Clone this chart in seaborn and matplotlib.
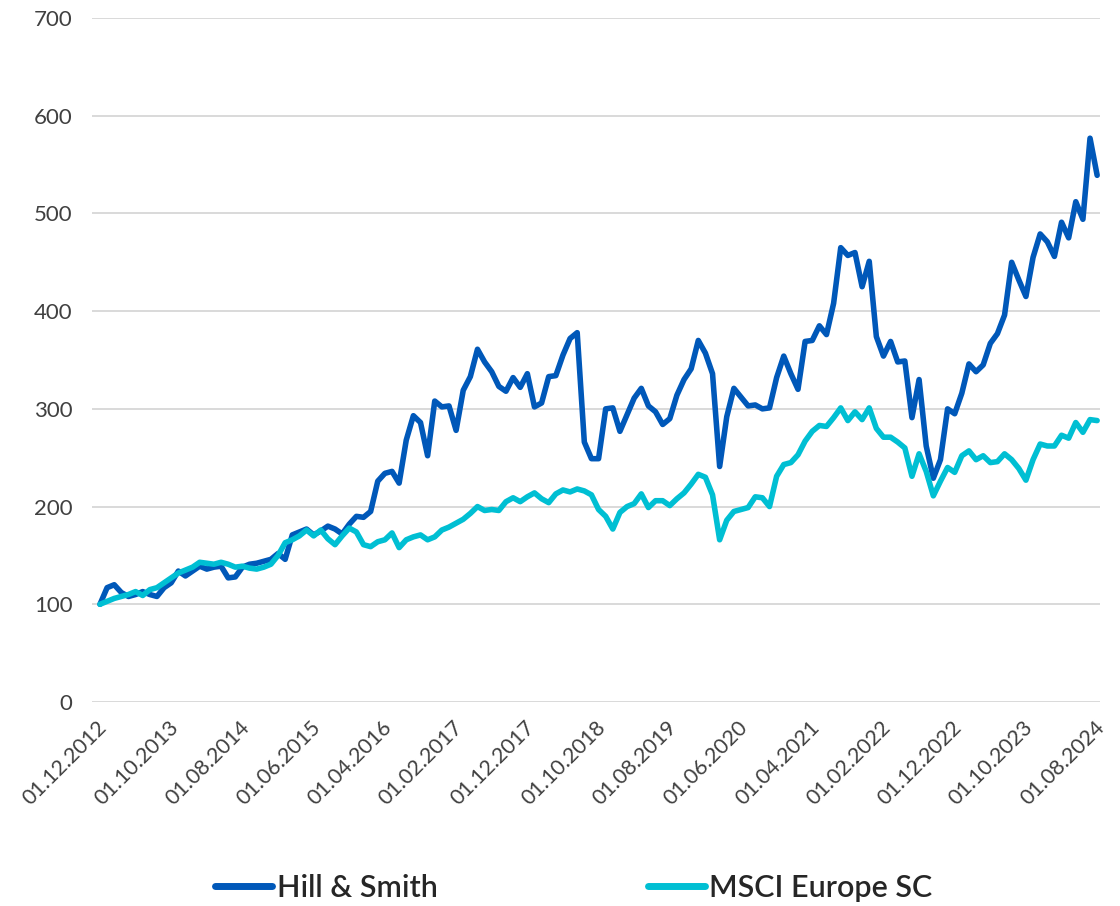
import numpy as np
import pandas as pd
import matplotlib.pyplot as plt
import matplotlib.transforms as mtransforms
from matplotlib.lines import Line2D
import seaborn as sns

# monthly index values, 01.12.2012 - 01.08.2024 (rebased to 100)
hill_smith = [
    100, 117, 120, 112, 108, 110, 113, 110, 108, 117,
    122, 134, 129, 134, 139, 136, 138, 139, 127, 128,
    138, 141, 142, 144, 146, 152, 146, 171, 174, 177,
    171, 175, 180, 177, 172, 182, 190, 189, 195, 226,
    234, 236, 224, 268, 293, 286, 252, 308, 302, 303,
    278, 319, 333, 361, 348, 338, 323, 318, 332, 322,
    336, 302, 306, 333, 334, 355, 372, 378, 266, 249,
    249, 300, 301, 277, 294, 311, 321, 303, 297, 284,
    290, 314, 330, 341, 370, 357, 336, 241, 292, 321,
    312, 303, 304, 300, 301, 332, 354, 336, 320, 369,
    370, 385, 376, 408, 465, 457, 460, 425, 451, 374,
    354, 369, 348, 349, 291, 330, 262, 229, 248, 300,
    295, 316, 346, 338, 345, 367, 377, 396, 450, 432,
    415, 455, 479, 471, 456, 491, 475, 512, 494, 577, 539,
]
msci_europe_sc = [
    100, 103, 106, 108, 110, 113, 109, 115, 117, 122,
    127, 132, 135, 138, 143, 142, 141, 143, 141, 138,
    139, 137, 136, 138, 141, 150, 163, 166, 170, 176,
    170, 176, 167, 161, 170, 178, 174, 161, 159, 164,
    166, 173, 158, 166, 169, 171, 166, 169, 176, 179,
    183, 187, 193, 200, 196, 197, 196, 205, 209, 205,
    210, 214, 208, 204, 213, 217, 215, 218, 216, 212,
    197, 190, 177, 194, 200, 203, 213, 199, 206, 206,
    201, 208, 214, 223, 233, 230, 212, 166, 186, 195,
    197, 199, 210, 209, 200, 231, 243, 245, 253, 267,
    277, 283, 282, 291, 301, 288, 297, 289, 301, 280,
    271, 271, 266, 260, 231, 254, 236, 211, 226, 240,
    235, 252, 257, 248, 252, 245, 246, 254, 248, 239,
    227, 248, 264, 262, 262, 273, 270, 286, 276, 289, 288,
]
series_names = ['Hill & Smith', 'MSCI Europe SC']
colors = ['#0058B9', '#00BFD3']

dates = pd.date_range('2012-12-01', periods=len(hill_smith), freq='MS')
tick_pos = list(range(0, len(dates), 10))
tick_labels = [dates[i].strftime('%d.%m.%Y') for i in tick_pos]

df = pd.DataFrame({
    'month': list(range(len(dates))) * 2,
    'value': hill_smith + msci_europe_sc,
    'series': [series_names[0]] * len(dates) + [series_names[1]] * len(dates),
})

sns.set_theme(style='white')
plt.rcParams['font.family'] = ['Lato', 'DejaVu Sans']

fig = plt.figure(figsize=(11.2, 9.06), dpi=100)
ax = fig.add_axes([92 / 1120, 1 - 702 / 906, (1100 - 92) / 1120, (702 - 18) / 906])

sns.lineplot(data=df, x='month', y='value', hue='series', hue_order=series_names,
             palette=colors, linewidth=4, ax=ax, legend=False)
for ln in ax.get_lines():
    ln.set_solid_joinstyle('round')
    ln.set_solid_capstyle('round')

ax.set_xlim(-1.12, 140.4)
ax.set_ylim(0, 700)
ax.set_yticks(range(0, 701, 100))
ax.grid(axis='y', color='#D9D9D9', linewidth=1.4)
ax.set_axisbelow(True)
for s in ax.spines.values():
    s.set_visible(False)
ax.set_xlabel('')
ax.set_ylabel('')

ax.tick_params(axis='y', length=0, pad=14, labelsize=16, labelcolor='#404040')
ax.tick_params(axis='x', length=0, pad=16, labelsize=15.5, labelcolor='#404040')
ax.set_xticks(tick_pos)
ax.set_xticklabels(tick_labels, rotation=45, ha='right', va='center', rotation_mode='anchor')
offset = mtransforms.ScaledTranslation(4 / 100, 0, fig.dpi_scale_trans)
for lab in ax.get_xticklabels():
    lab.set_transform(lab.get_transform() + offset)

handles = [Line2D([], [], color=c, linewidth=5, solid_capstyle='round') for c in colors]
fig.legend(handles, series_names, loc='center', bbox_to_anchor=(0.5125, 0.0199),
           ncol=2, frameon=False, handlelength=1.85, handletextpad=0.15,
           columnspacing=6.9, prop={'size': 22, 'weight': 'semibold'})

fig.savefig('out.png', dpi=100)
